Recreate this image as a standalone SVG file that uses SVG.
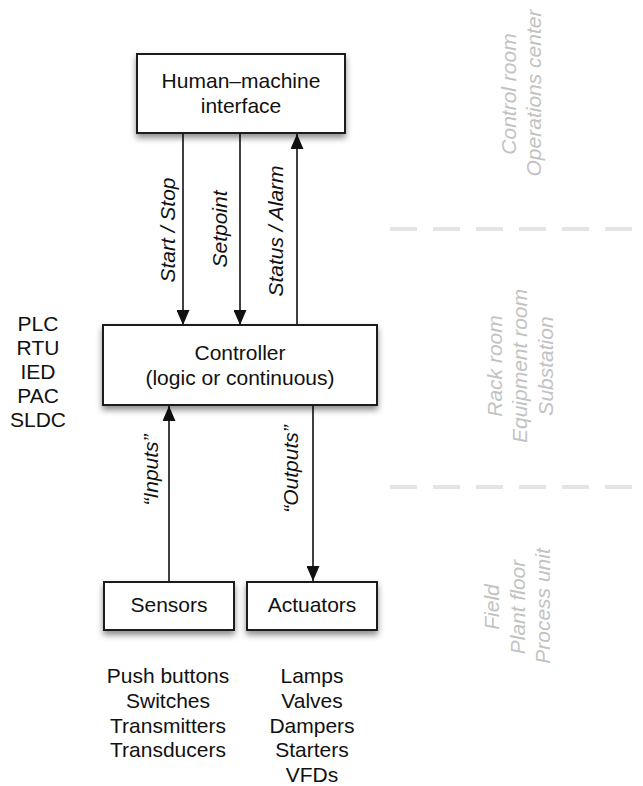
<svg xmlns="http://www.w3.org/2000/svg" width="643" height="786" viewBox="0 0 643 786">
  <style>
    text { font-family: "Liberation Sans", Arial, sans-serif; font-size: 21px; fill: #111; }
    .c { text-anchor: middle; }
    .it { font-style: italic; text-anchor: middle; }
    .zone { font-style: italic; text-anchor: middle; fill: #c2c2c2; }
    .box { fill: #fff; stroke: #1a1a1a; stroke-width: 2; filter: url(#shadow); }
    .wire { stroke: #111; stroke-width: 1.6; fill: none; }
    .sep { stroke: #e4e4e4; stroke-width: 4; stroke-dasharray: 27 16; }
  </style>
  <defs>
    <filter id="shadow" x="-10%" y="-20%" width="120%" height="150%">
      <feDropShadow dx="0" dy="4" stdDeviation="3" flood-color="#000" flood-opacity="0.45"/>
    </filter>
    <marker id="head" viewBox="0 0 15 13" refX="15" refY="6.5" markerWidth="15" markerHeight="13" markerUnits="userSpaceOnUse" orient="auto">
      <path d="M0,0 L15,6.5 L0,13 z" fill="#111"/>
    </marker>
  </defs>

  <!-- zone separators and zone names -->
  <g id="zones">
    <line class="sep" x1="390" y1="229" x2="643" y2="229"/>
    <line class="sep" x1="390" y1="487" x2="643" y2="487"/>
    <text class="zone" transform="translate(516,94) rotate(-90)">Control room</text>
    <text class="zone" transform="translate(541,93) rotate(-90)">Operations center</text>
    <text class="zone" transform="translate(502,366) rotate(-90)">Rack room</text>
    <text class="zone" transform="translate(527,366) rotate(-90)">Equipment room</text>
    <text class="zone" transform="translate(553,366) rotate(-90)">Substation</text>
    <text class="zone" transform="translate(499,607) rotate(-90)">Field</text>
    <text class="zone" transform="translate(525,607) rotate(-90)">Plant floor</text>
    <text class="zone" transform="translate(550,606) rotate(-90)">Process unit</text>
  </g>

  <!-- connectors -->
  <g id="connectors">
    <line class="wire" x1="183" y1="133" x2="183" y2="325" marker-end="url(#head)"/>
    <line class="wire" x1="240" y1="133" x2="240" y2="325" marker-end="url(#head)"/>
    <line class="wire" x1="297" y1="325" x2="297" y2="134" marker-end="url(#head)"/>
    <line class="wire" x1="169" y1="582" x2="169" y2="406" marker-end="url(#head)"/>
    <line class="wire" x1="313" y1="406" x2="313" y2="581" marker-end="url(#head)"/>
    <text class="it" transform="translate(175,230) rotate(-90)">Start / Stop</text>
    <text class="it" transform="translate(227,229) rotate(-90)">Setpoint</text>
    <text class="it" transform="translate(283,231) rotate(-90)">Status / Alarm</text>
    <text class="it" transform="translate(158,470) rotate(-90)">“Inputs”</text>
    <text class="it" transform="translate(298,469) rotate(-90)">“Outputs”</text>
  </g>

  <g id="hmi">
    <rect class="box" x="137" y="54" width="208" height="79"/>
    <text class="c" x="241" y="88">Human–machine</text>
    <text class="c" x="241" y="113">interface</text>
  </g>

  <g id="controller">
    <rect class="box" x="103" y="325" width="274" height="80"/>
    <text class="c" x="240" y="360">Controller</text>
    <text class="c" x="240" y="385">(logic or continuous)</text>
  </g>

  <g id="sensors">
    <rect class="box" x="104" y="582" width="130" height="48"/>
    <text class="c" x="169" y="612">Sensors</text>
  </g>

  <g id="actuators">
    <rect class="box" x="247" y="582" width="130" height="48"/>
    <text class="c" x="312" y="612">Actuators</text>
  </g>

  <g id="controller-types">
    <text class="c" x="38" y="331">PLC</text>
    <text class="c" x="38" y="355">RTU</text>
    <text class="c" x="38" y="379">IED</text>
    <text class="c" x="38" y="403">PAC</text>
    <text class="c" x="38" y="427">SLDC</text>
  </g>

  <g id="sensor-types">
    <text class="c" x="168" y="683">Push buttons</text>
    <text class="c" x="168" y="708">Switches</text>
    <text class="c" x="168" y="733">Transmitters</text>
    <text class="c" x="168" y="757">Transducers</text>
  </g>

  <g id="actuator-types">
    <text class="c" x="312" y="683">Lamps</text>
    <text class="c" x="312" y="708">Valves</text>
    <text class="c" x="312" y="733">Dampers</text>
    <text class="c" x="312" y="757">Starters</text>
    <text class="c" x="312" y="782">VFDs</text>
  </g>
</svg>
